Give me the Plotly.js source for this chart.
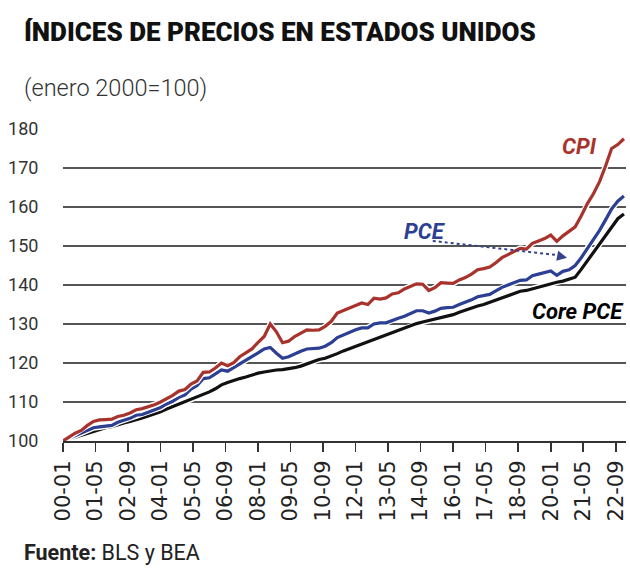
<!DOCTYPE html>
<html>
<head>
<meta charset="utf-8">
<script src="https://cdn.plot.ly/plotly-3.0.1.min.js"></script>
<style>html,body{margin:0;padding:0;background:#fff;}#chart{width:630px;height:568px;}</style>
</head>
<body>
<div id="chart"></div>
<script>
// Quarterly observations (Jan, Apr, Jul, Oct) from 2000-01 to 2023-01, index Jan 2000 = 100
const startYear = 2000;
const cpi = [
  100.0, 101.0, 102.0, 102.7,
  104.0, 105.0, 105.4, 105.5,
  105.6, 106.3, 106.6, 107.2,
  108.0, 108.3, 108.7, 109.3,
  110.0, 110.8, 111.7, 112.8,
  113.2, 114.6, 115.4, 117.6,
  117.7, 118.7, 120.0, 119.3,
  120.1, 121.6, 122.6, 123.6,
  125.3, 126.8, 130.0, 128.0,
  125.2, 125.6, 126.8, 127.7,
  128.5, 128.4, 128.5, 129.4,
  130.7, 132.8, 133.4, 134.0,
  134.6, 135.4, 135.0, 136.6,
  136.4, 136.7, 137.7, 138.0,
  139.0, 139.6, 140.3, 140.2,
  138.6, 139.3, 140.6, 140.5,
  140.4, 141.3, 141.9, 142.8,
  143.9, 144.2, 144.6, 145.7,
  147.0, 147.8, 148.7, 149.4,
  149.2, 150.7, 151.3, 151.9,
  152.8, 151.2, 152.6, 153.7,
  154.9, 157.7, 160.8, 163.4,
  166.5, 170.5, 175.0, 176.0,
  177.5
];
const pce = [
  100.0, 100.7, 101.4, 102.0,
  102.6, 103.4, 103.6, 103.8,
  104.0, 104.8, 105.3, 105.8,
  106.6, 106.8, 107.4, 107.9,
  108.6, 109.5, 110.2, 111.2,
  111.8, 113.3, 114.2, 116.0,
  116.2, 117.2, 118.2, 117.9,
  118.8, 119.9, 120.6, 121.6,
  122.6, 123.6, 124.0, 122.5,
  121.2, 121.6, 122.4, 123.0,
  123.6, 123.7, 123.8, 124.3,
  125.2, 126.5, 127.2, 127.8,
  128.5, 129.0, 129.0, 130.0,
  130.3, 130.3, 131.0, 131.5,
  132.0, 132.8, 133.4, 133.4,
  132.8, 133.3, 134.0, 134.2,
  134.3, 135.0, 135.5, 136.2,
  137.0, 137.3, 137.6, 138.5,
  139.4, 140.0, 140.6, 141.2,
  141.3, 142.4, 142.8, 143.3,
  143.6, 142.5, 143.5, 143.9,
  145.0, 147.0, 149.3, 151.5,
  154.0, 156.7, 159.5, 161.5,
  162.8
];
const corePce = [
  100.0, 100.5, 101.0, 101.5,
  102.0, 102.6, 103.0, 103.4,
  103.7, 104.2, 104.6, 105.0,
  105.4, 105.9, 106.4, 106.9,
  107.5, 108.2, 108.8, 109.4,
  110.0, 110.6, 111.2, 111.8,
  112.6, 113.4, 114.4, 115.0,
  115.4, 116.0, 116.4, 117.0,
  117.4, 117.7, 118.0, 118.2,
  118.3, 118.5, 118.8, 119.2,
  119.8, 120.5, 120.9, 121.2,
  121.7, 122.4, 123.1, 123.7,
  124.3, 124.9, 125.4, 126.0,
  126.6, 127.2, 127.8, 128.4,
  129.0, 129.6, 130.1, 130.5,
  130.9, 131.3, 131.6, 131.9,
  132.4, 133.0, 133.6, 134.2,
  134.6, 135.0, 135.6, 136.2,
  136.8, 137.3, 137.9, 138.4,
  138.6, 139.0, 139.5, 140.0,
  140.4, 140.7, 141.0, 141.4,
  142.0, 144.0, 146.2, 148.2,
  150.6, 152.7, 155.0, 157.0,
  158.2
];
const tickLabels = ['00-01','01-05','02-09','04-01','05-05','06-09','08-01','09-05','10-09',
                    '12-01','13-05','14-09','16-01','17-05','18-09','20-01','21-05','22-09'];
const yTicks = [100,110,120,130,140,150,160,170,180];

const dates = cpi.map((_, i) => {
  const y = startYear + Math.floor(i / 4);
  const m = (i % 4) * 3 + 1;
  return y + '-' + String(m).padStart(2, '0') + '-01';
});
const tickVals = tickLabels.map(l => '20' + l + '-01');

const RED = '#a8322c', BLUE = '#2c3f93', BLACK = '#111111';
function halo(y){ return {x: dates, y: y, mode: 'lines', line: {color: '#ffffff', width: 6}, hoverinfo: 'skip'}; }
function series(y, c){ return {x: dates, y: y, mode: 'lines', line: {color: c, width: 3.2}}; }

const data = [
  halo(corePce), series(corePce, BLACK),
  halo(pce), series(pce, BLUE),
  halo(cpi), series(cpi, RED)
];

const layout = {
  width: 630, height: 568,
  margin: {l: 63, r: 4, t: 129, b: 127},
  paper_bgcolor: '#ffffff', plot_bgcolor: '#ffffff',
  showlegend: false,
  font: {family: 'Roboto, sans-serif', color: '#222'},
  title: {
    text: 'ÍNDICES DE PRECIOS EN ESTADOS UNIDOS',
    xref: 'container', yref: 'container',
    x: 24/630, xanchor: 'left', y: 1 - 32/568, yanchor: 'middle',
    font: {family: 'Roboto, sans-serif', size: 26, weight: 900, color: '#111'}
  },
  xaxis: {
    type: 'date',
    range: ['2000-01-01', '2023-02-01'],
    tickvals: tickVals, ticktext: tickLabels,
    tickangle: -90,
    ticklabeloverflow: 'allow',
    ticks: 'outside', ticklen: 9, tickwidth: 1.5, tickcolor: '#333',
    showline: true, linecolor: '#333', linewidth: 2,
    showgrid: false, zeroline: false,
    tickfont: {family: 'DejaVu Sans, sans-serif', size: 21, color: '#222'}
  },
  yaxis: {
    range: [100, 180],
    tickvals: yTicks,
    ticks: 'outside', ticklen: 20, tickcolor: 'rgba(0,0,0,0)',
    showgrid: true, gridcolor: '#555', gridwidth: 1.5,
    zeroline: false, showline: false,
    tickfont: {family: 'Roboto, sans-serif', size: 18, color: '#333'}
  },
  annotations: [
    {xref: 'paper', yref: 'paper', x: -0.0723, y: 1.131, xanchor: 'left', yanchor: 'middle',
     text: '(enero 2000=100)', showarrow: false,
     font: {family: 'Roboto, sans-serif', size: 23.5, color: '#333', weight: 300}},
    {xref: 'paper', yref: 'paper', x: -0.072, y: -0.356, xanchor: 'left', yanchor: 'middle',
     text: '<b>Fuente:</b> BLS y BEA', showarrow: false,
     font: {family: 'Roboto, sans-serif', size: 21.5, color: '#222'}},
    {x: '2021-03-01', y: 175.4, xanchor: 'center', yanchor: 'middle', showarrow: false,
     text: '<b><i>CPI</i></b>', font: {family: 'Roboto, sans-serif', size: 22, color: RED}},
    {x: '2014-11-01', y: 153.6, xanchor: 'center', yanchor: 'middle', showarrow: false,
     text: '<b><i>PCE</i></b>', font: {family: 'Roboto, sans-serif', size: 22, color: BLUE}},
    {xref: 'paper', x: 1.0, y: 133.1, xanchor: 'right', yanchor: 'middle', showarrow: false,
     text: '<b><i>Core PCE</i></b>', font: {family: 'Roboto, sans-serif', size: 22, color: '#000'}},
    {x: '2020-09-01', y: 147.0, text: '', showarrow: true, arrowhead: 2, arrowsize: 1,
     arrowwidth: 2, arrowcolor: '#34438a', ax: -10, ay: -2}
  ],
  shapes: [
    {type: 'line', xref: 'x', yref: 'y', x0: '2015-03-01', y0: 151.3, x1: '2020-07-01', y1: 147.5,
     line: {color: '#34438a', width: 2, dash: 'dot'}}
  ]
};

Plotly.newPlot('chart', data, layout, {staticPlot: true, displayModeBar: false});
</script>
</body>
</html>
